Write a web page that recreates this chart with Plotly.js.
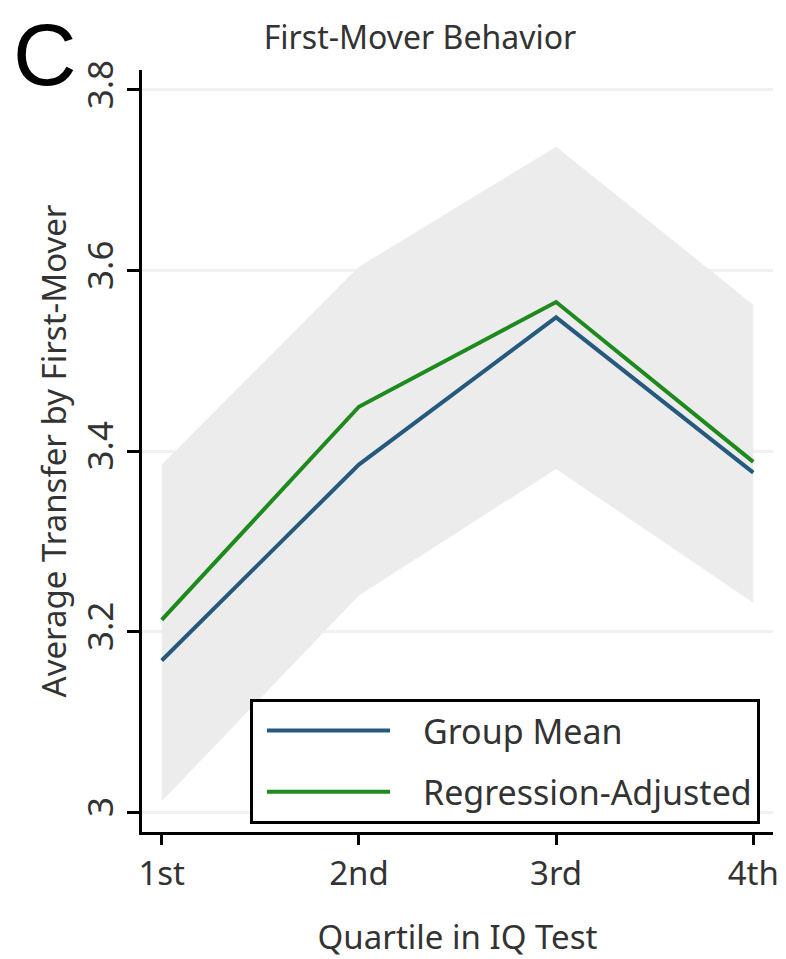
<!DOCTYPE html>
<html>
<head>
<meta charset="utf-8">
<script src="https://cdn.plot.ly/plotly-3.0.1.min.js"></script>
<style>html,body{margin:0;padding:0;background:#fff;}#chart{width:786px;height:959px;}</style>
</head>
<body>
<div id="chart"></div>
<script>
// Data
const quartiles = ['1st', '2nd', '3rd', '4th'];
const groupMean = [3.168, 3.385, 3.548, 3.376];
const regressionAdjusted = [3.213, 3.449, 3.565, 3.388];
const bandUpper = [3.385, 3.604, 3.737, 3.562];
const bandLower = [3.012, 3.240, 3.380, 3.232];
const yTicks = [3.0, 3.2, 3.4, 3.6, 3.8];
const yTickLabels = ['3', '3.2', '3.4', '3.6', '3.8'];

const FONT = '"Noto Sans", "Open Sans", sans-serif';
const TXT = '#333333';

const traces = [
  {x: quartiles, y: bandLower, type: 'scatter', mode: 'lines',
   line: {width: 0, color: 'rgba(0,0,0,0)'}, showlegend: false, hoverinfo: 'skip'},
  {x: quartiles, y: bandUpper, type: 'scatter', mode: 'lines', fill: 'tonexty',
   fillcolor: 'rgb(236,236,236)', line: {width: 0, color: 'rgba(0,0,0,0)'},
   showlegend: false, hoverinfo: 'skip'},
  {x: quartiles, y: groupMean, type: 'scatter', mode: 'lines', name: 'Group Mean',
   legendgroup: 'a', line: {color: '#255a7e', width: 4}},
  {x: quartiles, y: regressionAdjusted, type: 'scatter', mode: 'lines', name: 'Regression-Adjusted',
   legendgroup: 'b', line: {color: '#1e8a1e', width: 4}}
];

const layout = {
  width: 786, height: 959,
  margin: {l: 142, r: 13, t: 70, b: 127},
  paper_bgcolor: '#ffffff', plot_bgcolor: '#ffffff',
  font: {family: FONT, color: TXT, size: 32},
  title: {text: 'First-Mover Behavior', font: {family: FONT, size: 32, color: TXT},
          x: 420/786, xref: 'container', xanchor: 'center', y: 1 - 38/959, yanchor: 'middle'},
  xaxis: {
    type: 'category', range: [-0.1, 3.1],
    showline: true, linecolor: '#000', linewidth: 3,
    ticks: 'outside', ticklen: 10, tickwidth: 3, tickcolor: '#000',
    showgrid: false, zeroline: false,
    tickfont: {family: FONT, size: 33, color: TXT},
    title: {text: 'Quartile in IQ Test', font: {family: FONT, size: 33, color: TXT}, standoff: 36}
  },
  yaxis: {
    range: [2.978, 3.822],
    tickvals: yTicks, ticktext: yTickLabels, tickangle: -90,
    showline: true, linecolor: '#000', linewidth: 3,
    ticks: 'outside', ticklen: 12, tickwidth: 3, tickcolor: '#000',
    showgrid: true, gridcolor: '#f1f1f1', gridwidth: 3, zeroline: false,
    tickfont: {family: FONT, size: 35, color: TXT},
    title: {text: 'Average Transfer by First-Mover', font: {family: FONT, size: 33, color: TXT}, standoff: 0}
  },
  legend: {
    x: (250 - 142) / 631, y: (832 - 699) / 762, xanchor: 'left', yanchor: 'top',
    bordercolor: '#000', borderwidth: 3, bgcolor: '#ffffff',
    font: {family: FONT, size: 34, color: TXT},
    traceorder: 'grouped', tracegroupgap: 14, itemwidth: 160
  },
  annotations: [
    {text: 'C', xref: 'paper', yref: 'paper', x: (45 - 142) / 631, y: (832 - 3) / 762,
     xanchor: 'center', yanchor: 'top', showarrow: false,
     font: {family: '"Liberation Sans", Arial, sans-serif', size: 88, color: '#000'}}
  ],
  showlegend: true
};

Plotly.newPlot('chart', traces, layout, {staticPlot: true}).then(function () {
  document.querySelectorAll('.legend .legendlines path').forEach(function (p) {
    p.setAttribute('d', 'M14,0h123');
  });
});
</script>
</body>
</html>
